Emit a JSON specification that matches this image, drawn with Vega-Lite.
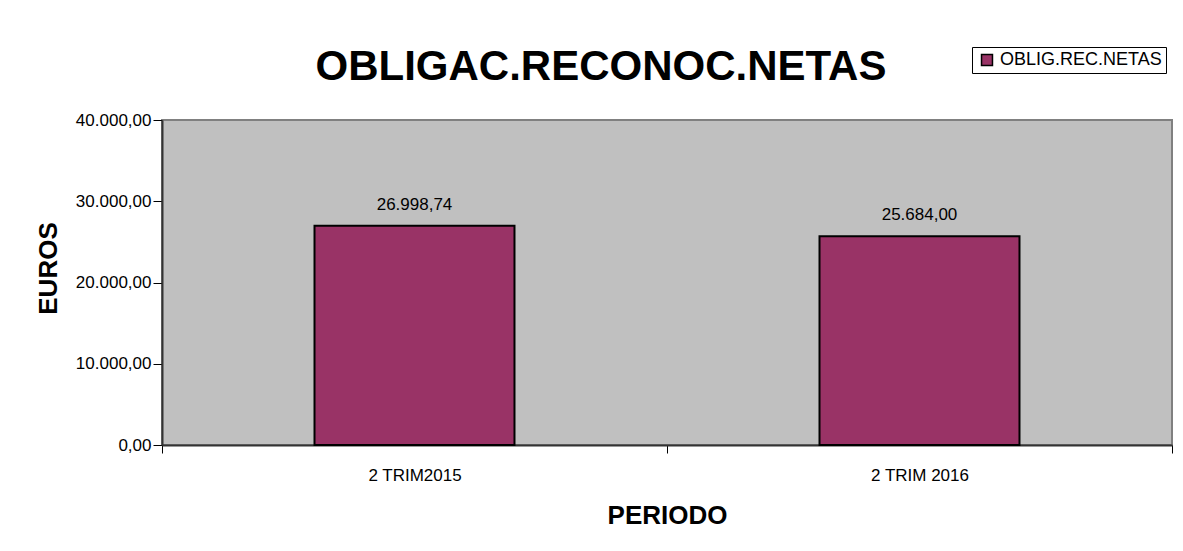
{
  "$schema": "https://vega.github.io/schema/vega-lite/v6.json",
  "autosize": "none",
  "padding": {"left": 162, "top": 120, "right": 11, "bottom": 106},
  "width": 1010,
  "height": 325,
  "background": "white",
  "config": {
    "font": "Liberation Sans",
    "locale": {"number": {"decimal": ",", "thousands": ".", "grouping": [3], "currency": ["", ""]}},
    "view": {"fill": "#C0C0C0", "stroke": "#808080", "strokeWidth": 2}
  },
  "title": {
    "text": "OBLIGAC.RECONOC.NETAS",
    "font": "Liberation Sans",
    "fontSize": 42,
    "fontWeight": "bold",
    "color": "black",
    "anchor": "middle",
    "frame": "group",
    "baseline": "alphabetic",
    "dx": -66,
    "dy": 75,
    "offset": 0
  },
  "data": {
    "values": [
      {"periodo": "2 TRIM2015", "serie": "OBLIG.REC.NETAS", "valor": 26998.74},
      {"periodo": "2 TRIM 2016", "serie": "OBLIG.REC.NETAS", "valor": 25684.00}
    ]
  },
  "encoding": {
    "x": {
      "field": "periodo",
      "type": "nominal",
      "sort": null,
      "scale": {"paddingInner": 0, "paddingOuter": 0},
      "axis": {
        "title": "PERIODO",
        "titleFont": "Liberation Sans",
        "titleFontSize": 26,
        "titleFontWeight": "bold",
        "titleColor": "black",
        "titlePadding": 19,
        "labelAngle": 0,
        "labelFont": "Liberation Sans",
        "labelFontSize": 17,
        "labelColor": "black",
        "labelPadding": 14,
        "tickBand": "extent",
        "tickSize": 8,
        "tickColor": "black",
        "domainColor": "#333333",
        "domainWidth": 2,
        "grid": false
      }
    },
    "y": {
      "field": "valor",
      "type": "quantitative",
      "scale": {"domain": [0, 40000], "nice": false},
      "axis": {
        "title": "EUROS",
        "titleFont": "Liberation Sans",
        "titleFontSize": 26,
        "titleFontWeight": "bold",
        "titleColor": "black",
        "titlePadding": 14,
        "titleY": 148,
        "values": [0, 10000, 20000, 30000, 40000],
        "format": ",.2f",
        "labelFont": "Liberation Sans",
        "labelFontSize": 17,
        "labelColor": "black",
        "labelPadding": 2,
        "tickSize": 9,
        "tickColor": "black",
        "domainColor": "#333333",
        "domainWidth": 2,
        "grid": false
      }
    }
  },
  "layer": [
    {
      "mark": {"type": "bar", "stroke": "black", "strokeWidth": 2, "width": {"band": 0.396}},
      "encoding": {
        "fill": {
          "field": "serie",
          "type": "nominal",
          "scale": {"range": ["#993366"]},
          "legend": {
            "title": null,
            "orient": "none",
            "legendX": 810,
            "legendY": -73,
            "strokeColor": "black",
            "fillColor": "white",
            "padding": 4,
            "symbolType": "square",
            "symbolSize": 120,
            "symbolStrokeColor": "black",
            "symbolStrokeWidth": 1.5,
            "symbolOpacity": 1,
            "labelFont": "Liberation Sans",
            "labelFontSize": 18,
            "labelColor": "black",
            "labelLimit": 300,
            "symbolOffset": 2
          }
        }
      }
    },
    {
      "mark": {"type": "text", "dy": -12, "baseline": "bottom", "font": "Liberation Sans", "fontSize": 17, "color": "black"},
      "encoding": {
        "text": {"field": "valor", "type": "quantitative", "format": ",.2f"}
      }
    }
  ]
}
